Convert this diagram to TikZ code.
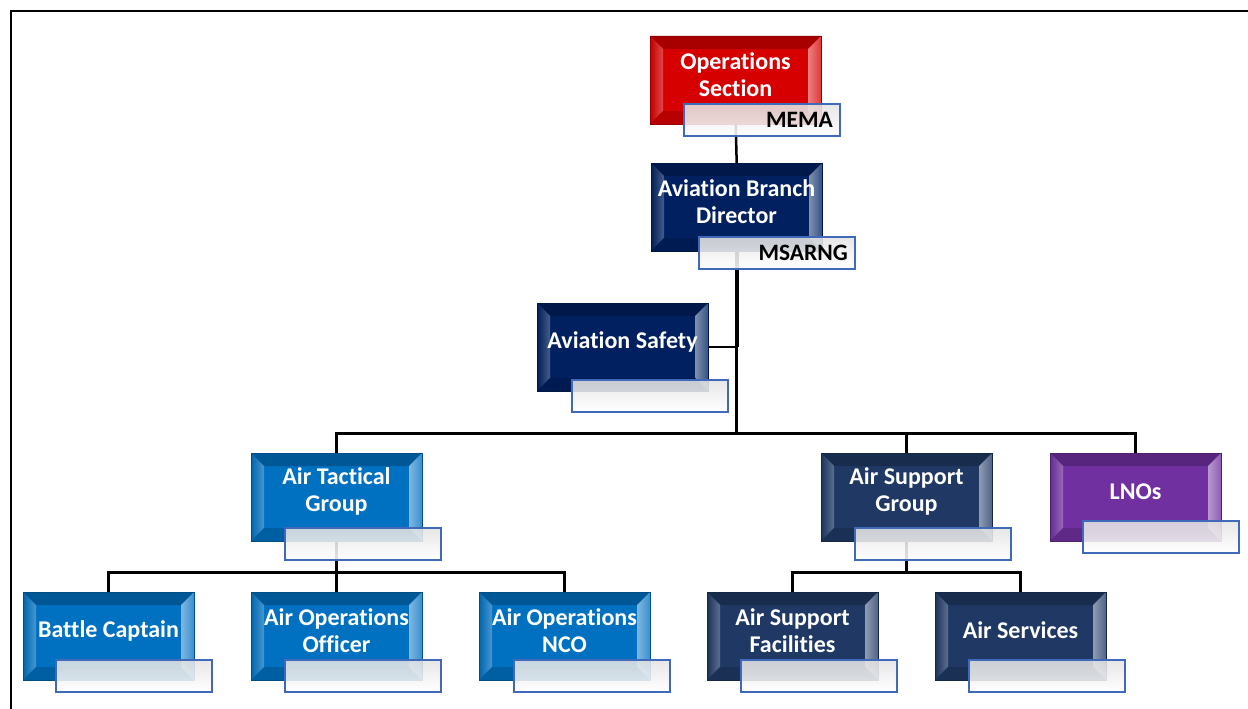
\documentclass[tikz,border=0pt]{standalone}
\usepackage{fontspec}
\setmainfont{Carlito}[RawFeature={-liga}]
\usetikzlibrary{calc}
\pgfdeclarelayer{bg}
\pgfsetlayers{bg,main}
\definecolor{cred}{RGB}{215,0,0}
\definecolor{cnavy}{RGB}{0,32,96}
\definecolor{cblue}{RGB}{0,112,192}
\definecolor{cslate}{RGB}{31,56,100}
\definecolor{cpurple}{RGB}{112,48,160}
\definecolor{subborder}{RGB}{65,105,185}
\tikzset{
  mainbox/.style={rectangle, minimum width=171pt, minimum height=88pt, inner sep=0pt,
    anchor=north west, fill=#1},
  subbox/.style={rectangle, minimum width=156pt, minimum height=32pt, inner sep=0pt,
    anchor=north west, draw=subborder, line width=1.6pt,
    top color=black!11!white, bottom color=white, fill opacity=0.88, text opacity=1,
    font=\fontsize{23.5}{25}\selectfont\bfseries, text=black, align=right, text width=142pt},
  maintext/.style={text=white, font=\fontsize{24}{27}\selectfont\bfseries, align=center, inner sep=0pt},
  conn/.style={line width=2.5pt, black},
  thickconn/.style={line width=4pt, black},
  frameline/.style={line width=1.5pt, black}
}
% #1 name, #2 x, #3 y, #4 colour, #5 text, #6 subtext, #7 sub dx, #8 sub dy
\newcommand\orgunit[8]{%
  \node[mainbox=#4] (#1) at (#2,#3) {};
  \fill[#4!78!black] (#2,#3) -- ++(171,0) -- ++(-13,13) -- ++(-145,0) -- cycle;
  \shade[left color=#4!90!black, right color=#4!72!white] (#2,#3) -- ++(13,13) -- ++(0,62) -- ++(-13,13) -- cycle;
  \shade[left color=#4!50!white, right color=#4!78!white] ({#2+171},#3) -- ++(-13,13) -- ++(0,62) -- ++(13,13) -- cycle;
  \fill[#4!85!black] (#2,{#3+88}) -- ++(13,-13) -- ++(145,0) -- ++(13,13) -- cycle;
  \draw[#4!70!black, line width=0.8pt] (#1.north west) rectangle (#1.south east);
  \node[maintext] (#1-t) at ({#2+85.5},{#3+38.5}) {#5};
  \node[subbox] (#1-s) at ({#2+#7},{#3+#8}) {#6};
}
\begin{document}
\begin{tikzpicture}[x=1pt,y=-1pt]
\useasboundingbox (0,0) rectangle (1248,709);
\draw[frameline] (11,709) -- (11,11) -- (1248,11);

\orgunit{ops}{650}{36}{cred}{Operations\\Section}{MEMA}{33}{67}
\orgunit{abd}{651}{163}{cnavy}{Aviation Branch\\Director}{MSARNG}{47}{73}
\orgunit{saf}{537}{303}{cnavy}{Aviation Safety}{}{34}{76}
\orgunit{atg}{251}{453}{cblue}{Air Tactical\\Group}{}{33}{74}
\orgunit{asg}{821}{453}{cslate}{Air Support\\Group}{}{33}{74}
\orgunit{lno}{1050}{453}{cpurple}{LNOs}{}{32}{67}
\orgunit{bc}{23}{592}{cblue}{Battle Captain}{}{32}{67}
\orgunit{aoo}{251}{592}{cblue}{Air Operations\\Officer}{}{33}{67}
\orgunit{nco}{479}{592}{cblue}{Air Operations\\NCO}{}{34}{67}
\orgunit{asf}{707}{592}{cslate}{Air Support\\Facilities}{}{33}{67}
\orgunit{asv}{935}{592}{cslate}{Air Services}{}{33}{67}

\begin{pgfonlayer}{bg}
  \coordinate (j1) at (abd.south |- saf.east);
  \coordinate (bus) at ($(abd.south)+(0,182)$);
  \coordinate (b2) at ($(atg.south)+(0,31)$);
  \coordinate (b3) at ($(asg.south)+(0,31)$);
  \draw[conn] (ops.south) -- (abd.north);
  \draw[thickconn] (abd.south) -- (j1);
  \draw[conn] (saf.east) -- (j1) -- (bus);
  \draw[conn] (bus) -| (atg.north);
  \draw[conn] (bus) -| (asg.north);
  \draw[conn] (bus) -| (lno.north);
  \draw[conn] (atg.south) -- (b2);
  \draw[conn] (b2) -| (bc.north);
  \draw[conn] (b2) -| (aoo.north);
  \draw[conn] (b2) -| (nco.north);
  \draw[conn] (asg.south) -- (b3);
  \draw[conn] (b3) -| (asf.north);
  \draw[conn] (b3) -| (asv.north);
\end{pgfonlayer}
\end{tikzpicture}
\end{document}
